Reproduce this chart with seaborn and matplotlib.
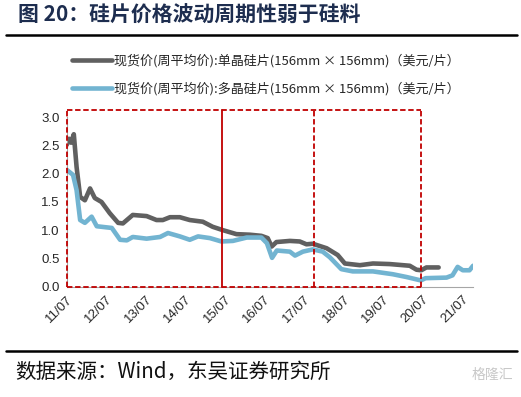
import numpy as np
import pandas as pd
import seaborn as sns
import matplotlib.pyplot as plt

# 现货价(周平均价)，横轴为年份（小数）
mono_x = [2011.50, 2011.56, 2011.61, 2011.68, 2011.75, 2011.84, 2011.96, 2012.09,
          2012.21, 2012.38, 2012.59, 2012.80, 2012.92, 2013.17, 2013.52, 2013.77,
          2013.93, 2014.11, 2014.36, 2014.61, 2014.94, 2015.19, 2015.45, 2015.79,
          2016.13, 2016.42, 2016.58, 2016.68, 2016.80, 2017.14, 2017.39, 2017.56,
          2017.72, 2018.07, 2018.35, 2018.53, 2018.91, 2019.24, 2019.66, 2020.17,
          2020.34, 2020.46, 2020.59, 2020.90]
mono_y = [2.51, 2.62, 2.55, 2.70, 2.12, 1.59, 1.53, 1.74,
          1.57, 1.50, 1.30, 1.13, 1.12, 1.27, 1.25, 1.18,
          1.18, 1.23, 1.23, 1.18, 1.15, 1.06, 1.00, 0.93,
          0.92, 0.90, 0.86, 0.71, 0.79, 0.81, 0.80, 0.75,
          0.76, 0.68, 0.56, 0.41, 0.38, 0.41, 0.40, 0.37,
          0.30, 0.29, 0.34, 0.34]

poly_x = [2011.50, 2011.66, 2011.75, 2011.84, 2011.96, 2012.13, 2012.26, 2012.51,
          2012.64, 2012.85, 2013.02, 2013.17, 2013.52, 2013.86, 2014.06, 2014.36,
          2014.61, 2014.82, 2015.12, 2015.41, 2015.70, 2016.05, 2016.42, 2016.56,
          2016.69, 2016.81, 2017.14, 2017.27, 2017.47, 2017.72, 2017.97, 2018.15,
          2018.44, 2018.73, 2019.24, 2019.74, 2020.09, 2020.45, 2020.57, 2021.10,
          2021.25, 2021.38, 2021.51, 2021.68, 2021.77]
poly_y = [2.07, 1.98, 1.71, 1.18, 1.13, 1.24, 1.07, 1.05,
          1.04, 0.83, 0.82, 0.88, 0.85, 0.88, 0.95, 0.89,
          0.83, 0.89, 0.86, 0.80, 0.81, 0.87, 0.87, 0.77,
          0.51, 0.64, 0.62, 0.55, 0.62, 0.66, 0.62, 0.52,
          0.31, 0.27, 0.27, 0.22, 0.17, 0.11, 0.15, 0.16,
          0.20, 0.35, 0.29, 0.29, 0.37]

# 周期划分（红色虚线框）
cycle_bounds = [2011.5, 2015.42, 2017.745, 2020.46]
box_top = 3.13

tick_years = [2011.5 + i for i in range(11)]
tick_labels = ["11/07", "12/07", "13/07", "14/07", "15/07", "16/07",
               "17/07", "18/07", "19/07", "20/07", "21/07"]

label_mono = "现货价(周平均价):单晶硅片(156mm × 156mm)（美元/片）"
label_poly = "现货价(周平均价):多晶硅片(156mm × 156mm)（美元/片）"

sns.set_style("white")
plt.rcParams['font.family'] = ['Noto Sans CJK SC', 'DejaVu Sans']

fig = plt.figure(figsize=(5.21, 3.97), dpi=100)
ax = fig.add_axes([0.128, 0.278, 0.78, 0.4265])

df_mono = pd.DataFrame({"x": mono_x, "y": mono_y})
df_poly = pd.DataFrame({"x": poly_x, "y": poly_y})
sns.lineplot(data=df_mono, x="x", y="y", ax=ax, color="#606060", lw=3.3,
             label=label_mono, solid_capstyle="round", solid_joinstyle="round")
sns.lineplot(data=df_poly, x="x", y="y", ax=ax, color="#72b4d1", lw=3.3,
             label=label_poly, solid_capstyle="round", solid_joinstyle="round")

# red dashed cycle boxes: top/bottom edges plus vertical separators
red = "#c00000"
dash = (0, (3, 1.5))
left, right = cycle_bounds[0], cycle_bounds[-1]
ax.plot([left, right], [box_top, box_top], color=red, lw=1.3, ls=dash, clip_on=False, zorder=5)
ax.plot([left, right], [0, 0], color=red, lw=1.3, ls=dash, clip_on=False, zorder=5)
for i, xb in enumerate(cycle_bounds):
    style = "-" if i == 1 else dash
    ax.plot([xb, xb], [0, box_top], color=red, lw=1.3, ls=style, clip_on=False, zorder=5)

ax.set_xlim(2011.5, 2021.77)
ax.set_ylim(0, 3.0)
ax.set_yticks(np.arange(0, 3.01, 0.5))
ax.set_yticklabels([f"{v:.1f}" for v in np.arange(0, 3.01, 0.5)],
                   family="Liberation Sans", fontsize=9.5)
ax.set_xticks(tick_years)
ax.set_xticklabels(tick_labels, rotation=45, ha="right", rotation_mode="anchor",
                   family="Liberation Sans", fontsize=9.5)
ax.set_xlabel("")
ax.set_ylabel("")
ax.tick_params(axis="both", length=3, width=0.8, color="#a6a6a6", pad=2)
for side in ["top", "right"]:
    ax.spines[side].set_visible(False)
for side in ["left", "bottom"]:
    ax.spines[side].set_color("#a6a6a6")
    ax.spines[side].set_linewidth(0.8)

handles, labels = ax.get_legend_handles_labels()
ax.get_legend().remove()
leg = fig.legend(handles, labels, loc="center left", bbox_to_anchor=(0.138, 0.811),
                 frameon=False, fontsize=9.4, handlelength=3.1, labelspacing=1.1,
                 handletextpad=0.15, borderpad=0, borderaxespad=0)
for line in leg.get_lines():
    line.set_linewidth(3.3)

# title and rules
fig.text(0.035, 0.962, "图 20：硅片价格波动周期性弱于硅料", fontsize=15,
         fontweight="bold", color="#1d2d4f", va="center")
fig.add_artist(plt.Line2D([0.012, 0.992], [0.912, 0.912], color="black", lw=1.8))
fig.add_artist(plt.Line2D([0.012, 0.992], [0.116, 0.116], color="black", lw=1.8))
fig.text(0.03, 0.063, "数据来源：Wind，东吴证券研究所", fontsize=14.8,
         color="#111111", va="center")
fig.text(0.985, 0.055, "格隆汇", fontsize=10, color="#c8c8c8",
         ha="right", va="center")

fig.savefig("out.png", dpi=100)
